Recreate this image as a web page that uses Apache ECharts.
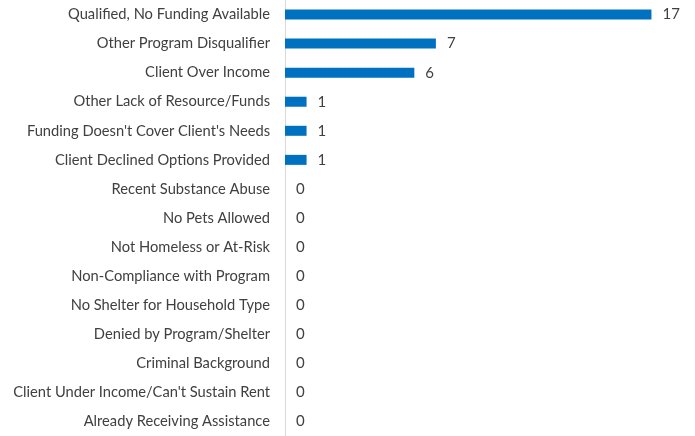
<!DOCTYPE html>
<html><head><meta charset="utf-8">
<script src="https://cdn.jsdelivr.net/npm/echarts@6/dist/echarts.min.js"></script>
<style>html,body{margin:0;padding:0;background:#fff}#c{width:695px;height:436px}</style>
</head><body><div id="c"></div>
<script>
const categories = [
  "Qualified, No Funding Available",
  "Other Program Disqualifier",
  "Client Over Income",
  "Other Lack of Resource/Funds",
  "Funding Doesn't Cover Client's Needs",
  "Client Declined Options Provided",
  "Recent Substance Abuse",
  "No Pets Allowed",
  "Not Homeless or At-Risk",
  "Non-Compliance with Program",
  "No Shelter for Household Type",
  "Denied by Program/Shelter",
  "Criminal Background",
  "Client Under Income/Can't Sustain Rent",
  "Already Receiving Assistance"
];
const values = [17, 7, 6, 1, 1, 1, 0, 0, 0, 0, 0, 0, 0, 0, 0];

const chart = echarts.init(document.getElementById('c'), null, {renderer: 'canvas'});
chart.setOption({
  animation: false,
  grid: {left: 285, top: 0, width: 388, height: 439, containLabel: false},
  xAxis: {type: 'value', min: 0, max: 18, show: false},
  yAxis: {
    type: 'category', data: categories, inverse: true,
    axisLine: {show: true, lineStyle: {color: '#d9d9d9', width: 1}},
    axisTick: {show: false},
    axisLabel: {margin: 15, color: '#404040', fontFamily: 'Lato', fontSize: 14.7}
  },
  series: [{
    type: 'bar', data: values, barWidth: 10,
    itemStyle: {color: '#0070C0'},
    label: {show: true, position: 'right', distance: 11, color: '#404040', fontFamily: 'Lato', fontSize: 15}
  }]
});
</script></body></html>
